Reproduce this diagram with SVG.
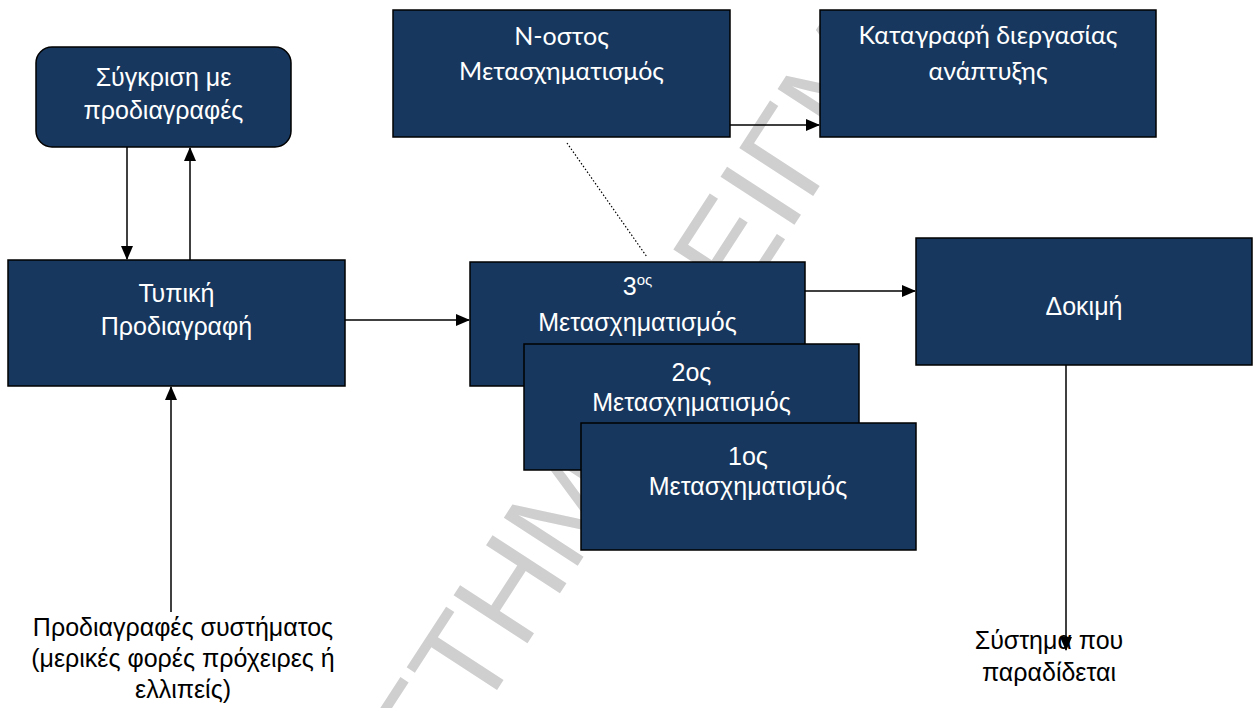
<svg xmlns="http://www.w3.org/2000/svg" width="1258" height="708" viewBox="0 0 1258 708">
<style>
.box{fill:#17375e;stroke:#000;stroke-width:1.5}
.t{font-family:"Liberation Sans",Arial,sans-serif;font-size:25px;fill:#fff;text-anchor:middle}
.c{font-family:Lato,"Noto Sans",sans-serif;font-size:25px;fill:#fff;text-anchor:middle}
.b{font-family:"Liberation Sans",Arial,sans-serif;font-size:25px;fill:#000;text-anchor:middle}
.ln{stroke:#000;stroke-width:1.5;fill:none}
.wm{font-family:"Liberation Sans",Arial,sans-serif;font-size:128px;fill:#cfcfcf}
</style>
<defs>
<marker id="ah" markerUnits="userSpaceOnUse" markerWidth="14" markerHeight="14" viewBox="0 0 14 14" refX="13" refY="7" orient="auto"><path d="M0,1 L14,7 L0,13 z" fill="#000"/></marker>
</defs>
<rect width="1258" height="708" fill="#fff"/>
<g id="watermark">
<text class="wm" transform="translate(436,784) rotate(-57)">ΣΤΗΜ</text>
<text class="wm" transform="translate(695,378) rotate(-57)">ΔΕΙΓΜ</text>
</g>
<g id="connectors">
<line class="ln" x1="127" y1="147" x2="127" y2="259" marker-end="url(#ah)"/>
<line class="ln" x1="190" y1="260" x2="190" y2="148" marker-end="url(#ah)"/>
<line class="ln" x1="171" y1="612" x2="171" y2="387" marker-end="url(#ah)"/>
<line class="ln" x1="345" y1="320" x2="469" y2="320" marker-end="url(#ah)"/>
<line class="ln" x1="730" y1="125" x2="819" y2="125" marker-end="url(#ah)"/>
<line x1="567" y1="143" x2="647" y2="257" stroke="#000" stroke-width="1.2" stroke-dasharray="1.5 2"/>
<line class="ln" x1="805" y1="291" x2="915" y2="291" marker-end="url(#ah)"/>
<line class="ln" x1="1066" y1="365" x2="1066" y2="650" marker-end="url(#ah)"/>
</g>
<g id="sygkrisi">
<rect class="box" x="36" y="47" width="255" height="100" rx="16"/>
<text class="t" x="163.5" y="86">Σύγκριση με</text>
<text class="t" x="163.5" y="119">προδιαγραφές</text>
</g>
<g id="typiki">
<rect class="box" x="8" y="260" width="337" height="126"/>
<text class="t" x="176.5" y="302">Τυπική</text>
<text class="t" x="176.5" y="335">Προδιαγραφή</text>
</g>
<g id="nostos">
<rect class="box" x="393" y="10" width="337" height="127"/>
<text class="c" x="561.5" y="45">N-οστος</text>
<text class="c" x="561.5" y="80">Μετασχηματισμός</text>
</g>
<g id="katagrafi">
<rect class="box" x="820" y="10" width="336" height="127"/>
<text class="c" x="988" y="44">Καταγραφή διεργασίας</text>
<text class="c" x="988" y="80">ανάπτυξης</text>
</g>
<g id="m3">
<rect class="box" x="470" y="262" width="335" height="124"/>
<text class="t" x="637.5" y="295">3<tspan font-size="15" dy="-10">ος</tspan></text>
<text class="t" x="637.5" y="331">Μετασχηματισμός</text>
</g>
<g id="m2">
<rect class="box" x="524" y="344" width="335" height="126"/>
<text class="t" x="691.5" y="381">2ος</text>
<text class="t" x="691.5" y="411">Μετασχηματισμός</text>
</g>
<g id="m1">
<rect class="box" x="581" y="423" width="335" height="127"/>
<text class="t" x="748" y="465">1ος</text>
<text class="t" x="748" y="495">Μετασχηματισμός</text>
</g>
<g id="dokimi">
<rect class="box" x="916" y="238" width="336" height="127"/>
<text class="t" x="1084" y="315">Δοκιμή</text>
</g>
<g id="input">
<text class="b" x="183" y="636">Προδιαγραφές συστήματος</text>
<text class="b" x="183" y="667">(μερικές φορές πρόχειρες ή</text>
<text class="b" x="183" y="698">ελλιπείς)</text>
</g>
<g id="output">
<text class="b" x="1049" y="649">Σύστημα που</text>
<text class="b" x="1049" y="681">παραδίδεται</text>
</g>
</svg>
